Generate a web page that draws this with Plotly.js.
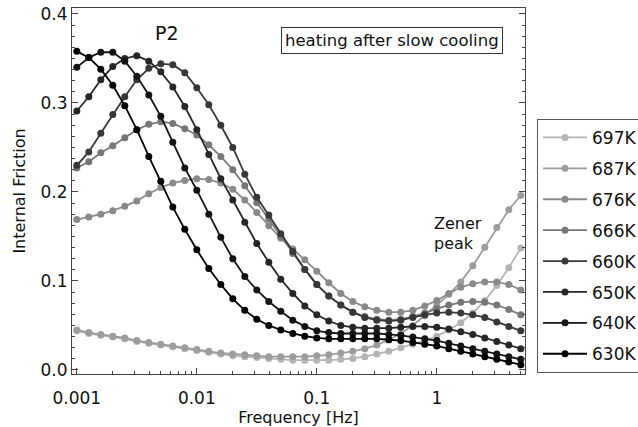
<!DOCTYPE html>
<html>
<head>
<meta charset="utf-8">
<script src="https://cdn.plot.ly/plotly-3.0.1.min.js"></script>
<style>
html,body{margin:0;padding:0;background:#fff;}
#chart{width:638px;height:427px;}
</style>
</head>
<body>
<div id="chart"></div>
<script>
// Frequency [Hz]
var freq = [0.001,0.001259,0.001585,0.001995,0.002512,0.003162,0.003981,0.005012,0.00631,0.007943,
            0.01,0.01259,0.01585,0.01995,0.02512,0.03162,0.03981,0.05012,0.0631,0.07943,
            0.1,0.1259,0.1585,0.1995,0.2512,0.3162,0.3981,0.5012,0.631,0.7943,
            1,1.259,1.585,1.995,2.512,3.162,3.981,5.012];

// Internal friction per temperature
var q697 = [.044,.041,.039,.037,.035,.032,.030,.028,.026,.024,
            .022,.020,.018,.016,.015,.014,.013,.012,.011,.011,
            .011,.011,.012,.013,.015,.018,.021,.025,.029,.033,
            .038,.045,.053,.064,.078,.095,.115,.137];
var q687 = [.045,.042,.040,.038,.036,.033,.031,.029,.027,.025,
            .023,.021,.019,.018,.017,.016,.015,.015,.015,.015,
            .016,.017,.019,.021,.024,.028,.034,.041,.050,.061,
            .073,.085,.099,.117,.138,.160,.180,.196];
var q676 = [.169,.172,.175,.179,.184,.190,.198,.205,.210,.213,
            .215,.214,.210,.203,.191,.177,.162,.148,.136,.124,
            .111,.098,.086,.077,.071,.067,.065,.065,.067,.072,
            .078,.086,.093,.097,.099,.099,.096,.090];
var q666 = [.227,.234,.244,.252,.261,.270,.276,.279,.277,.271,
            .264,.253,.240,.225,.207,.188,.170,.150,.131,.113,
            .096,.083,.073,.065,.060,.057,.056,.057,.060,.064,
            .069,.073,.076,.077,.076,.073,.068,.062];
var q660 = [.230,.245,.266,.287,.307,.326,.339,.344,.343,.334,
            .317,.298,.275,.250,.220,.194,.174,.153,.133,.113,
            .096,.083,.073,.065,.059,.056,.055,.056,.059,.062,
            .064,.065,.064,.062,.059,.054,.049,.044];
var q650 = [.291,.307,.326,.341,.350,.353,.347,.335,.318,.296,
            .270,.242,.215,.191,.166,.142,.121,.102,.086,.072,
            .062,.055,.050,.048,.047,.047,.047,.048,.049,.049,
            .048,.046,.043,.040,.036,.032,.028,.024];
var q640 = [.340,.351,.357,.357,.347,.330,.309,.285,.256,.227,
            .202,.175,.149,.125,.105,.090,.077,.066,.056,.049,
            .044,.042,.041,.041,.041,.041,.040,.039,.037,.035,
            .033,.030,.027,.024,.021,.018,.015,.012];
var q630 = [.358,.351,.338,.320,.297,.270,.240,.212,.183,.158,
            .135,.114,.096,.080,.067,.057,.050,.045,.041,.038,
            .036,.035,.035,.035,.035,.035,.034,.033,.031,.029,
            .027,.024,.021,.018,.015,.012,.009,.006];

var seriesNames = ['697K','687K','676K','666K','660K','650K','640K','630K'];
var seriesValues = [q697,q687,q676,q666,q660,q650,q640,q630];

var xTickVals = [0.001,0.01,0.1,1];
var xTickText = ['0.001','0.01','0.1','1'];
var yTickVals = [0.0,0.1,0.2,0.3,0.4];
var yTickText = ['0.0','0.1','0.2','0.3','0.4'];

// styles
var shades = ['#b4b4b4','#9c9c9c','#8a8a8a','#777777','#383838','#262626','#141414','#000000'];

var traces = seriesNames.map(function(name, k){
  return {
    x: freq, y: seriesValues[k], name: name, type: 'scatter', mode: 'lines+markers',
    legendgroup: 'g'+k,
    line: {color: shades[k], width: 1.8},
    marker: {color: shades[k], size: 7}
  };
});

var FONT = 'DejaVu Sans, Liberation Sans, sans-serif';

var layout = {
  width: 638, height: 427,
  margin: {l: 72, r: 113, t: 8, b: 53, pad: 0, autoexpand: false},
  paper_bgcolor: '#fff', plot_bgcolor: '#fff',
  font: {family: FONT, size: 17, color: '#111'},
  showlegend: true,
  legend: {
    x: 1.0265, y: 0.697, xanchor: 'left', yanchor: 'top',
    xref: 'paper', yref: 'paper',
    bordercolor: '#555', borderwidth: 1, bgcolor: '#fff',
    font: {family: FONT, size: 17, color: '#111'},
    tracegroupgap: 5.8, itemwidth: 44
  },
  xaxis: {
    type: 'log', range: [-3.04, 0.735],
    tickvals: xTickVals, ticktext: xTickText,
    ticks: 'inside', ticklen: 6, tickwidth: 1, tickcolor: '#444',
    minor: {dtick: 'D1', ticks: 'inside', ticklen: 3, tickcolor: '#444', showgrid: false},
    showline: true, linecolor: '#444', linewidth: 1, mirror: true,
    showgrid: false, zeroline: false, ticklabelstandoff: 9,
    tickfont: {family: FONT, size: 17, color: '#111'},
    title: {text: 'Frequency [Hz]', font: {family: FONT, size: 16, color: '#111'}, standoff: 2}
  },
  yaxis: {
    range: [-0.0045, 0.4067],
    tickvals: yTickVals, ticktext: yTickText,
    ticks: 'inside', ticklen: 6, tickwidth: 1, tickcolor: '#444',
    minor: {dtick: 0.0125, ticks: 'inside', ticklen: 3, tickcolor: '#444', showgrid: false},
    showline: true, linecolor: '#444', linewidth: 1, mirror: 'ticks',
    showgrid: false, zeroline: false,
    tickfont: {family: FONT, size: 17, color: '#111'},
    title: {text: 'Internal Friction', font: {family: FONT, size: 16, color: '#111'}, standoff: 10}
  },
  annotations: [
    {xref: 'paper', yref: 'paper', x: 0.2097, y: 0.9317, text: 'P2', showarrow: false,
     xanchor: 'center', yanchor: 'middle', font: {family: FONT, size: 19, color: '#111'}},
    {xref: 'paper', yref: 'paper', x: 0.7075, y: 0.911, text: 'heating after slow cooling', showarrow: false,
     xanchor: 'center', yanchor: 'middle', bordercolor: '#333', borderwidth: 1, borderpad: 3, bgcolor: '#fff',
     font: {family: FONT, size: 16.5, color: '#111'}},
    {xref: 'paper', yref: 'paper', x: 0.794, y: 0.410, text: 'Zener', showarrow: false,
     xanchor: 'left', yanchor: 'middle', font: {family: FONT, size: 16, color: '#111'}},
    {xref: 'paper', yref: 'paper', x: 0.794, y: 0.356, text: 'peak', showarrow: false,
     xanchor: 'left', yanchor: 'middle', font: {family: FONT, size: 16, color: '#111'}}
  ]
};

Plotly.newPlot('chart', traces, layout, {displayModeBar: false, staticPlot: true});
</script>
</body>
</html>
